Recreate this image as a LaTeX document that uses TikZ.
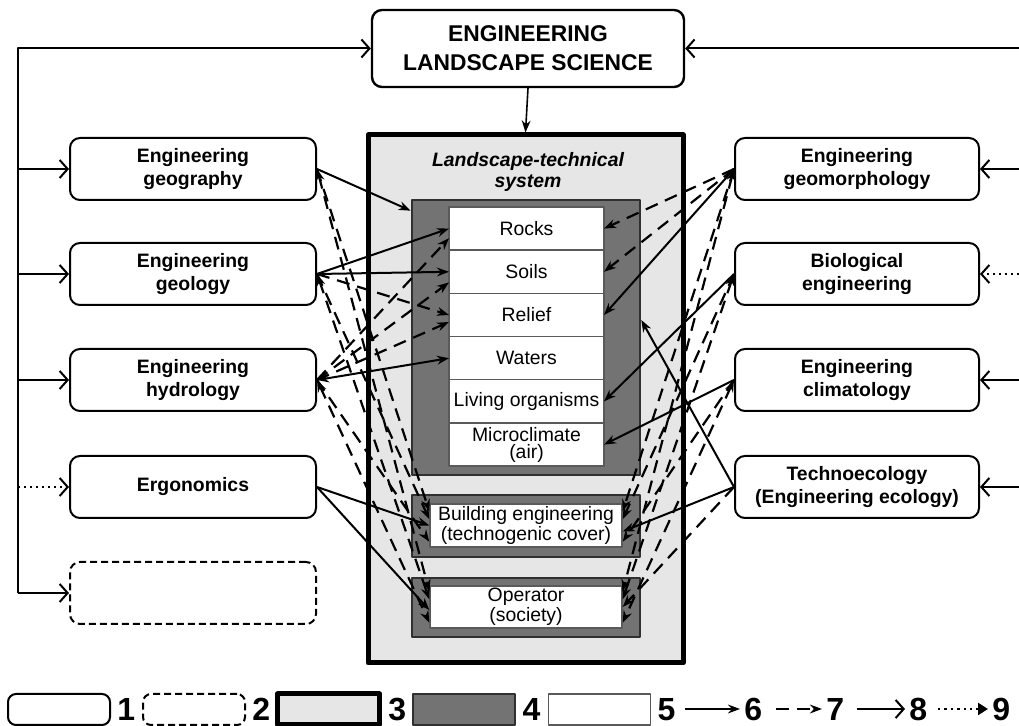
\documentclass[tikz,border=0pt]{standalone}
\usepackage{fontspec}
\setmainfont{Liberation Sans}
\usetikzlibrary{arrows.meta,positioning}
\definecolor{ltsgray}{HTML}{E6E6E6}
\definecolor{natgray}{HTML}{737373}
\definecolor{edgegray}{HTML}{303030}
\definecolor{rowedge}{HTML}{5A5A5A}
\begin{document}
\begin{tikzpicture}[x=.5pt,y=-.5pt,line join=round,
	>={Stealth[length=6pt,width=4.4pt]},
	tree/.style={line width=1pt,-{Straight Barb[length=4pt,width=9pt,line width=1pt]}},
	link/.style={line width=1pt,->},
	dlink/.style={line width=1.1pt,->,dash pattern=on 6.5pt off 4pt},
	disc/.style={draw,line width=1pt,rounded corners=5pt,minimum width=123pt,minimum height=31pt,inner sep=1pt,align=center,font=\bfseries\fontsize{9.7}{11.5}\selectfont},
	darkbox/.style={draw=edgegray,line width=1.3pt,fill=natgray,minimum width=114pt},
	rowbox/.style={draw=rowedge,line width=.7pt,fill=white,minimum width=77.5pt,minimum height=21.6pt,inner sep=0pt,outer sep=0pt,align=center,font=\fontsize{9.7}{8.5}\selectfont},
	whitebox/.style={draw=rowedge,line width=.7pt,fill=white,minimum width=96pt,inner sep=0pt,align=center,font=\fontsize{9.7}{10}\selectfont},
	keybox/.style={minimum width=51pt,minimum height=15.5pt},
	keynum/.style={inner sep=0pt,font=\bfseries\fontsize{16}{16}\selectfont}]
	\useasboundingbox (0,0) rectangle (1019,726);
	\def\lx{193} \def\rx{857} % columns of the boxes
	% top
	\node[draw,line width=1.2pt,rounded corners=5pt,minimum width=156pt,minimum height=38.5pt,align=center,font=\bfseries\fontsize{11.4}{14.5}\selectfont] (els) at (528,48.5) {ENGINEERING\\LANDSCAPE SCIENCE};
	% landscape-technical system
	\node[draw,line width=2.5pt,fill=ltsgray,minimum width=157.5pt,minimum height=264pt] (lts) at (525.5,399) {};
	\node[align=center,font=\bfseries\itshape\fontsize{9.7}{10.8}\selectfont] (ltstitle) at (528,172) {Landscape-technical\\system};
	\node[darkbox,minimum height=137.5pt] (natural) at (526,337.5) {};
	\node[rowbox] (rocks) at (526.5,228.6) {Rocks};
	\node[rowbox,below=0pt of rocks] (soils) {Soils};
	\node[rowbox,below=0pt of soils] (relief) {Relief};
	\node[rowbox,below=0pt of relief] (waters) {Waters};
	\node[rowbox,below=0pt of waters] (living) {Living organisms};
	\node[rowbox,below=0pt of living] (micro) {Microclimate\\(air)};
	\node[darkbox,minimum height=31pt] (techcov) at (526,526) {};
	\node[whitebox,minimum height=21.5pt] (bldg) at (526,525.5) {Building engineering\\(technogenic cover)};
	\node[darkbox,minimum height=29.5pt] (society) at (526,607.5) {};
	\node[whitebox,minimum height=21pt] (oper) at (526,607) {Operator\\(society)};
	% sciences
	\node[disc] (geog) at (\lx,169) {Engineering\\geography};
	\node[disc] (geol) at (\lx,274) {Engineering\\geology};
	\node[disc] (hydro) at (\lx,380) {Engineering\\hydrology};
	\node[disc] (ergo) at (\lx,487) {Ergonomics};
	\node[disc,dash pattern=on 3.5pt off 2pt] (spare) at (\lx,593) {};
	\node[disc,minimum width=122pt] (geom) at (\rx,169) {Engineering\\geomorphology};
	\node[disc,minimum width=122pt] (bio) at (\rx,274) {Biological\\engineering};
	\node[disc,minimum width=122pt] (clim) at (\rx,380) {Engineering\\climatology};
	\node[disc,minimum width=122pt] (techno) at (\rx,487) {Technoecology\\(Engineering ecology)};
	% tree
	\coordinate (lturn) at (18,593);
	\coordinate (rturn) at (1019,48.5);
	\draw[tree] (lturn) |- (els.west);
	\draw[tree] (lturn) -- (spare.west);
	\foreach \n in {geog,geol,hydro} \draw[tree] (lturn |- \n.west) -- (\n.west);
	\draw[tree,dotted] (lturn |- ergo.west) -- (ergo.west);
	\draw[tree] (rturn) -- (els.east);
	\foreach \n in {geom,clim,techno} \draw[tree] (rturn |- \n.east) -- (\n.east);
	\draw[tree,dotted] (rturn |- bio.east) -- (bio.east);
	\draw[link,line width=.8pt] (els.south) -- (lts.north);
	% left links
	\draw[link] (geog.east) -- ([yshift=-6pt]natural.north west);
	\draw[link] (geol.east) -- (rocks.west);
	\draw[link] (geol.east) -- (soils.west);
	\draw[dlink] (geol.east) -- (relief.west);
	\draw[link,<->] (hydro.east) -- (waters.west);
	\draw[dlink] (hydro.east) -- ([yshift=6pt]rocks.south west);
	\draw[dlink] (hydro.east) -- ([yshift=5.5pt]soils.south west);
	\draw[dlink] (hydro.east) -- ([yshift=-3.5pt]relief.west);
	\draw[dlink] (geog.east) -- ([yshift=-4pt]bldg.north west);
	\draw[dlink] (geol.east) -- ([yshift=-8pt]bldg.north west);
	\draw[dlink] (hydro.east) -- ([yshift=3pt]bldg.south west);
	\draw[dlink,<->] (geog.east) -- ([yshift=-3pt]oper.north west);
	\draw[dlink,<->] (geol.east) -- ([yshift=-7pt]oper.north west);
	\draw[dlink,<->] (hydro.east) -- ([yshift=3pt]oper.south west);
	\draw[link] (ergo.east) -- (bldg.west);
	\draw[link] (ergo.east) -- ([yshift=-1.5pt]oper.west);
	% right links
	\draw[dlink] (geom.west) -- (rocks.east);
	\draw[dlink] (geom.west) -- (soils.east);
	\draw[link] (geom.west) -- (relief.east);
	\draw[link] (bio.west) -- (living.east);
	\draw[link] (clim.west) -- (micro.east);
	\draw[link] (techno.west) -- ([yshift=8.75pt]natural.east);
	\draw[link] (techno.west) -- ([yshift=-3pt]bldg.east);
	\draw[dlink] (techno.west) -- (oper.east);
	\draw[dlink] (geom.west) -- ([yshift=-4pt]bldg.north east);
	\draw[dlink] (bio.west) -- ([yshift=-8pt]bldg.north east);
	\draw[dlink] (clim.west) -- ([yshift=3pt]bldg.south east);
	\draw[dlink,<->] (geom.west) -- ([yshift=-3pt]oper.north east);
	\draw[dlink,<->] (bio.west) -- ([yshift=-7pt]oper.north east);
	\draw[dlink,<->] (clim.west) -- ([yshift=3pt]oper.south east);
	% legend
	\node[keybox,draw,line width=1pt,rounded corners=4pt] (key1) at (59,709.5) {};
	\node[keynum,right=3pt of key1] (num1) {1};
	\node[keybox,draw,line width=1pt,rounded corners=4pt,dash pattern=on 3.5pt off 2pt] (key2) at (194,709.5) {};
	\node[keynum,right=3pt of key2] (num2) {2};
	\node[keybox,draw,line width=2.5pt,fill=ltsgray] (key3) at (328.5,709.5) {};
	\node[keynum,right=3pt of key3] (num3) {3};
	\node[keybox,draw=edgegray,line width=1.3pt,fill=natgray] (key4) at (464,709.5) {};
	\node[keynum,right=3pt of key4] (num4) {4};
	\node[keybox,draw=rowedge,line width=.7pt,fill=white] (key5) at (599.5,709.5) {};
	\node[keynum,right=3pt of key5] (num5) {5};
	\coordinate (k6a) at (685,709); \coordinate (k6b) at (740,709);
	\draw[link,line width=1.3pt] (k6a) -- (k6b);
	\node[keynum,right=2pt of k6b] (num6) {6};
	\coordinate (k7a) at (776,709); \coordinate (k7b) at (822,709);
	\draw[dlink,line width=1.3pt] (k7a) -- (k7b);
	\node[keynum,right=2pt of k7b] (num7) {7};
	\coordinate (k8a) at (857,709); \coordinate (k8b) at (905,709);
	\draw[tree,line width=1.3pt] (k8a) -- (k8b);
	\node[keynum,right=2pt of k8b] (num8) {8};
	\coordinate (k9a) at (938,709); \coordinate (k9b) at (988,709);
	\draw[line width=1.2pt,dotted,-{Triangle[length=5pt,width=6pt]}] (k9a) -- (k9b);
	\node[keynum,right=2pt of k9b] (num9) {9};
\end{tikzpicture}
\end{document}
